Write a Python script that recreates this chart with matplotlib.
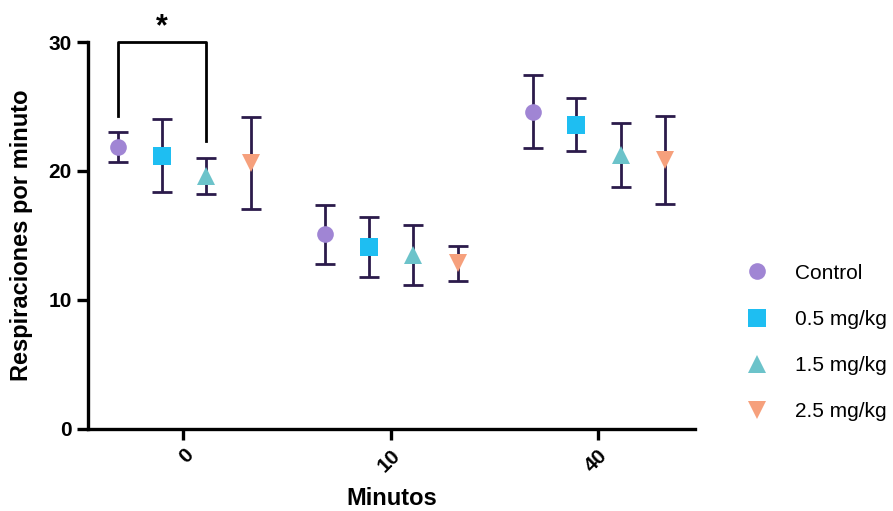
import numpy as np
import matplotlib.pyplot as plt

plt.rcParams['font.family'] = ['Liberation Sans', 'DejaVu Sans']

# Data
tiempos = ['0', '10', '40']
grupos = ['Control', '0.5 mg/kg', '1.5 mg/kg', '2.5 mg/kg']
medias = {
    'Control':   [21.85, 15.1, 24.6],
    '0.5 mg/kg': [21.2, 14.1, 23.6],
    '1.5 mg/kg': [19.6, 13.5, 21.25],
    '2.5 mg/kg': [20.6, 12.85, 20.85],
}
errores = {
    'Control':   [1.15, 2.3, 2.85],
    '0.5 mg/kg': [2.85, 2.35, 2.05],
    '1.5 mg/kg': [1.4, 2.3, 2.5],
    '2.5 mg/kg': [3.55, 1.35, 3.4],
}

colores = ['#A085D4', '#1EBEF2', '#6CC3CA', '#F6A07C']
marcadores = ['o', 's', '^', 'v']
offsets = [-0.315, -0.105, 0.11, 0.325]
color_barra = '#2B1B4B'

fig = plt.figure(figsize=(8.93, 5.11), dpi=100)
ax = fig.add_axes([0.0985, 0.1605, 0.68, 0.7573])

x = np.arange(len(tiempos))
for g, c, m, off in zip(grupos, colores, marcadores, offsets):
    ax.errorbar(x + off, medias[g], yerr=errores[g], fmt='none',
                ecolor=color_barra, elinewidth=2.0, capsize=7.5, capthick=2.0,
                zorder=2)
    ax.plot(x + off, medias[g], linestyle='none', marker=m, color=c,
            markersize=12 if m == 'o' else 12.5, markeredgewidth=0,
            label=g, zorder=3)

ax.set_xlim(-0.46, 2.47)
ax.set_ylim(0, 30)
ax.set_yticks([0, 10, 20, 30])
ax.set_xticks(x)
ax.set_xticklabels(tiempos, rotation=45, ha='right', rotation_mode='anchor')

for lbl in ax.get_xticklabels() + ax.get_yticklabels():
    lbl.set_fontweight('bold')
    lbl.set_fontsize(15)

ax.spines['top'].set_visible(False)
ax.spines['right'].set_visible(False)
for s in ['left', 'bottom']:
    ax.spines[s].set_linewidth(2.4)
ax.tick_params(axis='both', width=2.4, length=8, color='black')
ax.tick_params(axis='x', pad=4)

ax.set_xlabel('Minutos', fontsize=17, fontweight='bold', labelpad=8)
ax.set_ylabel('Respiraciones por minuto', fontsize=17, fontweight='bold', labelpad=11)

# Significance bracket (Control vs 1.5 mg/kg at minute 0)
x1 = x[0] + offsets[0]
x2 = x[0] + offsets[2]
ax.plot([x1, x1, x2, x2], [24.3, 30, 30, 22.3], color='black', lw=2.0,
        clip_on=False, zorder=4)
ax.text((x1 + x2) / 2, 30.0, '*', ha='center', va='bottom', fontsize=22,
        fontweight='bold', clip_on=False)

leg = fig.legend(loc='center left', bbox_to_anchor=(0.815, 0.33), frameon=False,
                 fontsize=15, labelspacing=1.3, handletextpad=1.33,
                 handlelength=1.0)

fig.savefig('out.png', dpi=100)
